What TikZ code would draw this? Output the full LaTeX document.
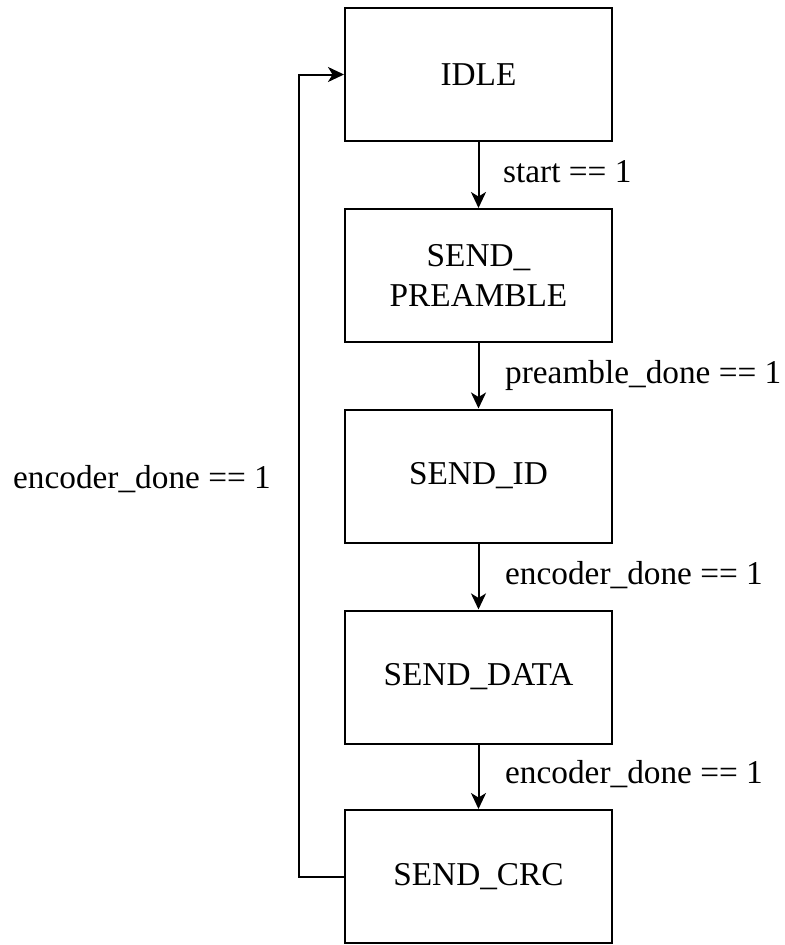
\documentclass[tikz,border=0pt]{standalone}
\usepackage{fontspec}
\setmainfont{Liberation Serif}
\usetikzlibrary{arrows.meta}
\begin{document}
\begin{tikzpicture}[x=1bp,y=-1bp,
  state/.style={draw=black, line width=2bp, rectangle, minimum width=267bp, minimum height=133bp,
    inner sep=0pt, align=center, font=\fontsize{33.3bp}{39.5bp}\selectfont},
  lbl/.style={inner sep=0pt, font=\fontsize{33.3bp}{39.5bp}\selectfont},
  arr/.style={line width=2bp, -{Stealth[length=16bp,width=15bp,inset=4.5bp]}}]
\useasboundingbox (0,0) rectangle (785,945);

\node[state] (idle) at (478.5,74.5) {IDLE};
\node[state] (pre)  at (478.5,275.5) {SEND\_\\PREAMBLE};
\node[state] (id)   at (478.5,476) {SEND\_ID};
\node[state] (data) at (478.5,677) {SEND\_DATA};
\node[state] (crc)  at (478.5,876.5) {SEND\_CRC};

\draw[arr] (idle) -- (pre);
\draw[arr] (pre) -- (id);
\draw[arr] (id) -- (data);
\draw[arr] (data) -- (crc);
\draw[arr] (crc.west) -- ++(-45,0) |- (idle.west);

\node[lbl, anchor=base west] (l1) at (503,182) {start == 1};
\node[lbl, anchor=base west] (l2) at (505,383) {preamble\_done == 1};
\node[lbl, anchor=base west] (l3) at (505,584) {encoder\_done == 1};
\node[lbl, anchor=base west] (l4) at (505,783) {encoder\_done == 1};
\node[lbl, anchor=base east] (l5) at (271,488) {encoder\_done == 1};
\end{tikzpicture}
\end{document}
